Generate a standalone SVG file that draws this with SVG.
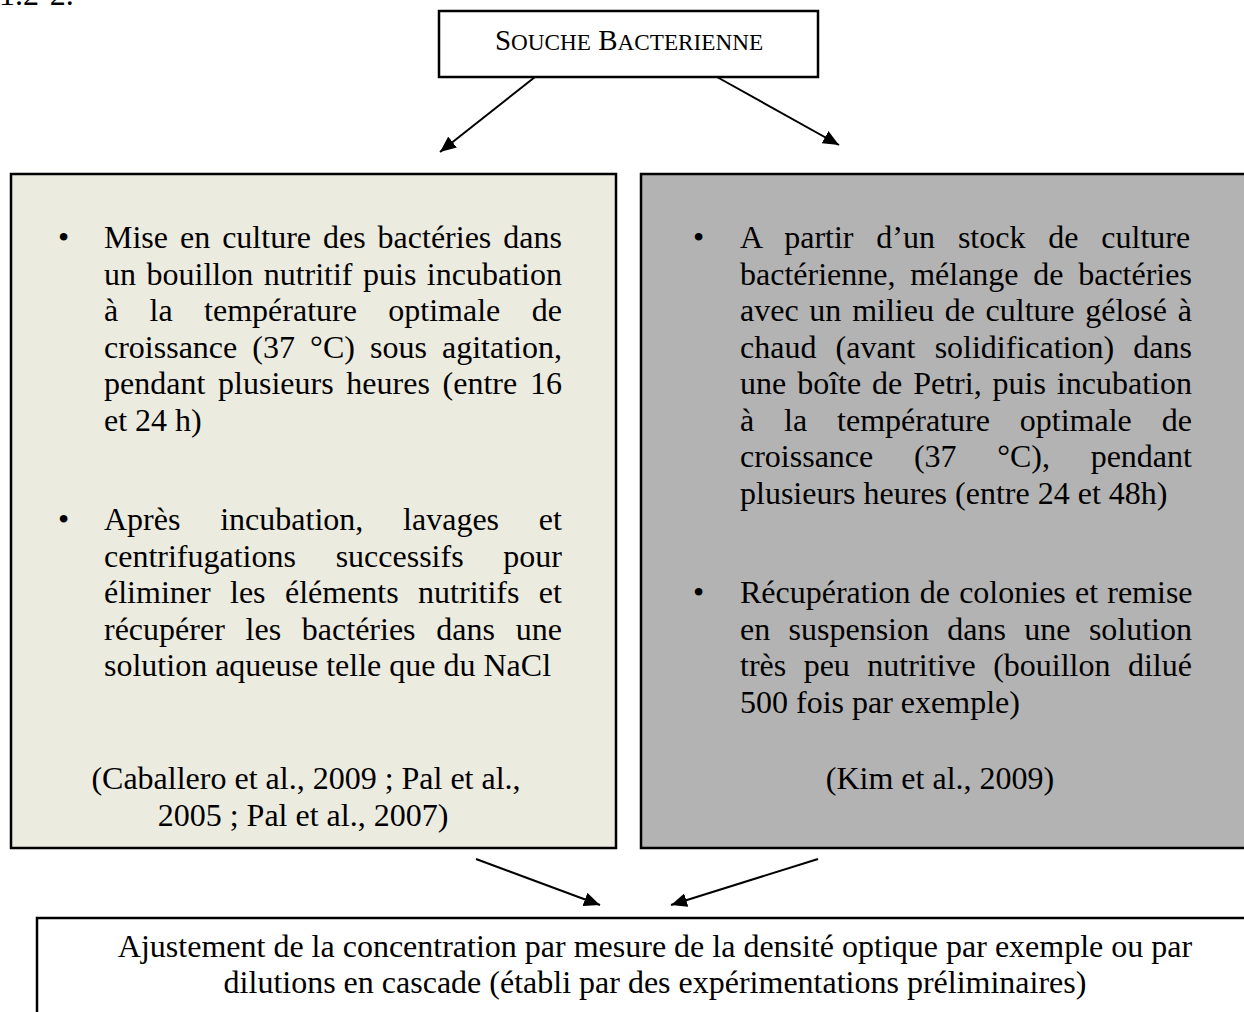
<svg xmlns="http://www.w3.org/2000/svg" width="1244" height="1012" viewBox="0 0 1244 1012">
<style>
.t{font-family:"Liberation Serif","Times New Roman",serif;font-size:32px;fill:#000}
.box{stroke:#000;stroke-width:2.5}
.conn{stroke:#000;stroke-width:2;fill:none;marker-end:url(#ah)}
</style>
<defs>
<marker id="ah" viewBox="0 0 16 14" refX="16" refY="7" markerWidth="16" markerHeight="14" orient="auto" markerUnits="userSpaceOnUse">
<path d="M0,0 L16,7 L0,14 z" fill="#000"/>
</marker>
</defs>
<rect width="1244" height="1012" fill="#fff"/>
<text class="t" x="-1" y="5">1.2-2.</text>

<g id="node-souche">
<rect class="box" x="439" y="11" width="379" height="66" fill="#fff" stroke-width="1.5"/>
<text class="t" x="629" y="50" text-anchor="middle"><tspan font-size="29">S</tspan><tspan font-size="23.2">OUCHE</tspan><tspan font-size="29"> B</tspan><tspan font-size="23.2">ACTERIENNE</tspan></text>
</g>

<g id="node-left">
<rect class="box" x="11" y="174" width="605" height="674" fill="#ecebe0"/>
<text class="t" x="58" y="248">•</text>
<text class="t" x="104" y="248" style="word-spacing:3.97px">Mise en culture des bactéries dans</text>
<text class="t" x="104" y="284.5" style="word-spacing:2.49px">un bouillon nutritif puis incubation</text>
<text class="t" x="104" y="321" style="word-spacing:23.4px">à la température optimale de</text>
<text class="t" x="104" y="357.5" style="word-spacing:7.09px">croissance (37 °C) sous agitation,</text>
<text class="t" x="104" y="394" style="word-spacing:4.74px">pendant plusieurs heures (entre 16</text>
<text class="t" x="104" y="430.5">et 24 h)</text>
<text class="t" x="58" y="530">•</text>
<text class="t" x="104" y="530" style="word-spacing:31.8px">Après incubation, lavages et</text>
<text class="t" x="104" y="566.5" style="word-spacing:31.7px">centrifugations successifs pour</text>
<text class="t" x="104" y="603" style="word-spacing:11.4px">éliminer les éléments nutritifs et</text>
<text class="t" x="104" y="639.5" style="word-spacing:12.76px">récupérer les bactéries dans une</text>
<text class="t" x="104" y="676">solution aqueuse telle que du NaCl</text>
<text class="t" x="306" y="789" text-anchor="middle">(Caballero et al., 2009 ; Pal et al.,</text>
<text class="t" x="303" y="825.5" text-anchor="middle">2005 ; Pal et al., 2007)</text>
</g>

<g id="node-right">
<rect class="box" x="641" y="174" width="700" height="674" fill="#b3b3b3"/>
<text class="t" x="693" y="248">•</text>
<text class="t" x="740" y="248" style="word-spacing:14.86px">A partir d’un stock de culture</text>
<text class="t" x="740" y="284.5" style="word-spacing:6.72px">bactérienne, mélange de bactéries</text>
<text class="t" x="740" y="321" style="word-spacing:2.76px">avec un milieu de culture gélosé à</text>
<text class="t" x="740" y="357.5" style="word-spacing:11.14px">chaud (avant solidification) dans</text>
<text class="t" x="740" y="394" style="word-spacing:2.94px">une boîte de Petri, puis incubation</text>
<text class="t" x="740" y="430.5" style="word-spacing:21.9px">à la température optimale de</text>
<text class="t" x="740" y="467" style="word-spacing:32.65px">croissance (37 °C), pendant</text>
<text class="t" x="740" y="503.5">plusieurs heures (entre 24 et 48h)</text>
<text class="t" x="693" y="603">•</text>
<text class="t" x="740" y="603" style="word-spacing:1.18px">Récupération de colonies et remise</text>
<text class="t" x="740" y="639.5" style="word-spacing:10.34px">en suspension dans une solution</text>
<text class="t" x="740" y="676" style="word-spacing:9.45px">très peu nutritive (bouillon dilué</text>
<text class="t" x="740" y="712.5">500 fois par exemple)</text>
<text class="t" x="940" y="789" text-anchor="middle">(Kim et al., 2009)</text>
</g>

<g id="node-bottom">
<rect class="box" x="37" y="918" width="1300" height="200" fill="#fff"/>
<text class="t" x="655" y="957" text-anchor="middle">Ajustement de la concentration par mesure de la densité optique par exemple ou par</text>
<text class="t" x="655" y="993" text-anchor="middle">dilutions en cascade (établi par des expérimentations préliminaires)</text>
</g>

<g id="connectors">
<line class="conn" x1="535" y1="77" x2="440" y2="152"/>
<line class="conn" x1="717" y1="77" x2="839" y2="145"/>
<line class="conn" x1="476" y1="859" x2="600" y2="905"/>
<line class="conn" x1="818" y1="859" x2="671" y2="905"/>
</g>
</svg>
